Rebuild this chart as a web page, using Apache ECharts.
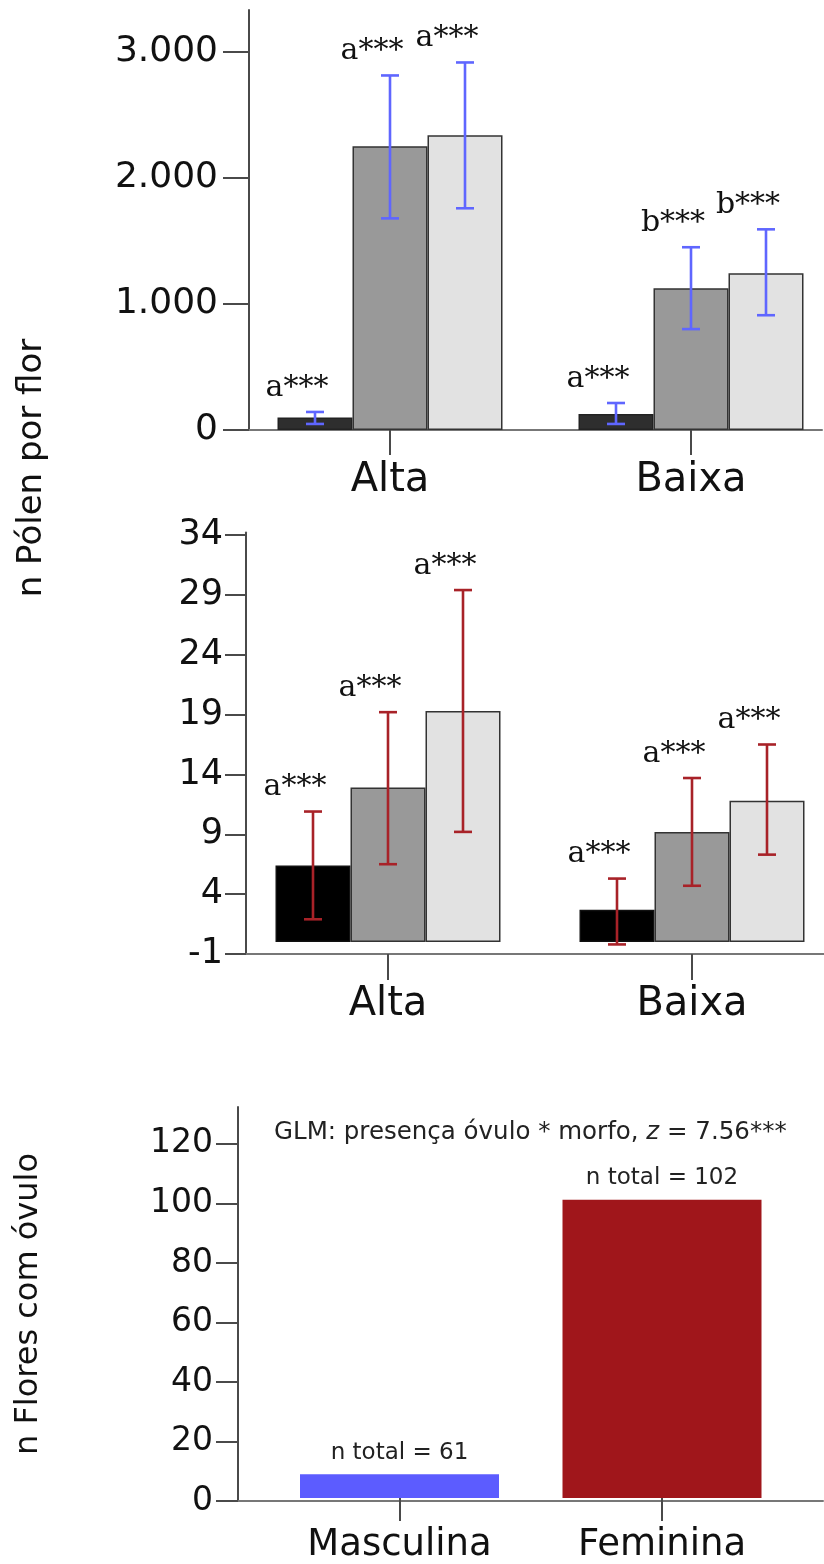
<!DOCTYPE html>
<html>
<head>
<meta charset="utf-8">
<script src="https://cdn.jsdelivr.net/npm/echarts@6/dist/echarts.min.js"></script>
<style>
  html, body { margin: 0; padding: 0; background: #fff; }
  #chart { width: 824px; height: 1564px; }
</style>
</head>
<body>
<div id="chart"></div>
<script>
// ---------- data ----------
const groups = ['Alta', 'Baixa'];
const morphs = ['Masculina', 'Feminina'];

// Panel 1: pollen per flower
const pollenDark = [100, 127];
const pollenMid = [2249, 1124];
const pollenLight = [2336, 1243];
const pollenDarkLow = [48, 48];
const pollenDarkHigh = [143, 214];
const pollenMidLow = [1678, 800];
const pollenMidHigh = [2811, 1449];
const pollenLightLow = [1758, 910];
const pollenLightHigh = [2914, 1591];
const pollenDarkLetters = ['a***', 'a***'];
const pollenMidLetters = ['a***', 'b***'];
const pollenLightLetters = ['a***', 'b***'];
const pollenTicks = [0, 1000, 2000, 3000];

// Panel 2
const grainDark = [6.4, 2.7];
const grainMid = [12.9, 9.2];
const grainLight = [19.3, 11.8];
const grainDarkLow = [1.9, -0.2];
const grainDarkHigh = [10.9, 5.3];
const grainMidLow = [6.5, 4.7];
const grainMidHigh = [19.2, 13.7];
const grainLightLow = [9.2, 7.3];
const grainLightHigh = [29.4, 16.5];
const grainDarkLetters = ['a***', 'a***'];
const grainMidLetters = ['a***', 'a***'];
const grainLightLetters = ['a***', 'a***'];
const grainTicks = [-1, 4, 9, 14, 19, 24, 29, 34];

// Panel 3: flowers with ovule
const ovuleFlowers = [8, 101];
const ovuleTotals = [61, 102];
const ovuleTicks = [0, 20, 40, 60, 80, 100, 120];

// ---------- styles ----------
const SANS = 'DejaVu Sans';
const SERIF = 'DejaVu Serif';
const BAR_W = 75;
const AXIS_COL = '#4a4a4a';
const BLUE = '#5f66ff';
const RED = '#a82228';

function thousands(v) {
  return String(v).replace(/\B(?=(\d{3})+(?!\d))/g, '.');
}

function catAxis(gridIndex, data, fontSize, margin, tickLen) {
  return {
    type: 'category', gridIndex, data, boundaryGap: false,
    axisLine: { show: false, onZero: false },
    axisTick: { show: true, length: tickLen, lineStyle: { color: AXIS_COL, width: 2 } },
    axisLabel: { fontSize, fontFamily: SANS, color: '#111', margin, interval: 0 },
    splitLine: { show: false }
  };
}
function lineXAxis(gridIndex) {
  return {
    type: 'value', gridIndex, min: 0, max: 1,
    axisLine: { show: true, onZero: false, lineStyle: { color: '#777', width: 2 } },
    axisTick: { show: false }, axisLabel: { show: false }, splitLine: { show: false }
  };
}
function hiddenY(gridIndex, min, max) {
  return { type: 'value', gridIndex, min, max, show: false, splitLine: { show: false } };
}
function visibleY(gridIndex, min, max, ticks, fontSize, margin, tickLen, fmt) {
  return {
    type: 'value', gridIndex, min, max,
    axisLine: { show: true, onZero: false, lineStyle: { color: AXIS_COL, width: 2 } },
    axisTick: { show: true, length: tickLen, customValues: ticks, lineStyle: { color: AXIS_COL, width: 2 } },
    axisLabel: { customValues: ticks, fontSize, fontFamily: SANS, color: '#111', margin, formatter: fmt },
    splitLine: { show: false }
  };
}
function barSeries(xi, yi, data, color, border) {
  return {
    type: 'bar', xAxisIndex: xi, yAxisIndex: yi, data,
    barWidth: BAR_W, barGap: '0%', clip: false,
    itemStyle: { color, borderColor: border, borderWidth: 1.5 },
    emphasis: { disabled: true }, z: 2
  };
}
function errorBars(xi, yi, lows, highs, letters, slot, color) {
  return {
    type: 'custom', xAxisIndex: xi, yAxisIndex: yi, z: 5, clip: false,
    data: lows.map((l, i) => [i, l, highs[i]]),
    renderItem: (params, api) => {
      const i = api.value(0);
      const lo = api.coord([i, api.value(1)]);
      const hi = api.coord([i, api.value(2)]);
      const x = lo[0] + slot * BAR_W;
      const cap = 9;
      const ls = { stroke: color, lineWidth: 2.6 };
      return {
        type: 'group',
        children: [
          { type: 'line', shape: { x1: x, y1: lo[1], x2: x, y2: hi[1] }, style: ls },
          { type: 'line', shape: { x1: x - cap, y1: hi[1], x2: x + cap, y2: hi[1] }, style: ls },
          { type: 'line', shape: { x1: x - cap, y1: lo[1], x2: x + cap, y2: lo[1] }, style: ls },
          { type: 'text', style: {
              text: letters[params.dataIndex], x: x - 18, y: hi[1] - 9,
              textAlign: 'center', verticalAlign: 'bottom',
              fontSize: 30, fontFamily: SERIF, fill: '#111' } }
        ]
      };
    }
  };
}

const chart = echarts.init(document.getElementById('chart'), null, { renderer: 'canvas' });

const option = {
  backgroundColor: '#fff',
  animation: false,
  title: {
    text: '{t|GLM: presença óvulo * morfo, }{i|z}{t| = 7.56***}',
    left: 269, top: 1115,
    textStyle: {
      fontWeight: 'normal',
      rich: {
        t: { fontSize: 24.5, fontFamily: SANS, fontWeight: 'normal', color: '#222' },
        i: { fontSize: 24.5, fontFamily: SANS, fontWeight: 'normal', fontStyle: 'italic', color: '#222' }
      }
    }
  },
  grid: [
    { left: 390, top: 10, width: 301, height: 420 },        // 0 P1 bars (category centres)
    { left: 249, top: 10, right: 2, height: 420 },          // 1 P1 frame
    { left: 388, top: 532.6, width: 304, height: 421.4 },   // 2 P2 bars
    { left: 246, top: 532.6, right: 0, height: 421.4 },     // 3 P2 frame
    { left: 399.5, top: 1107, width: 262.5, height: 394 },  // 4 P3 bars
    { left: 238, top: 1107, right: 1, height: 394 },        // 5 P3 frame
    { left: 249, top: 10, width: 10, height: 916 }          // 6 shared title
  ],
  xAxis: [
    catAxis(0, groups, 40, 31, 25),
    lineXAxis(1),
    catAxis(2, groups, 40, 31, 26),
    lineXAxis(3),
    catAxis(4, morphs, 37, 29, 23),
    lineXAxis(5),
    { type: 'value', gridIndex: 6, show: false }
  ],
  yAxis: [
    hiddenY(0, 0, 3330),
    visibleY(1, 0, 3330, pollenTicks, 36, 31, 26, thousands),
    hiddenY(2, -1, 34.2),
    visibleY(3, -1, 34.2, grainTicks, 35, 23, 21, v => String(v)),
    hiddenY(4, 0, 132.4),
    Object.assign(visibleY(5, 0, 132.4, ovuleTicks, 33, 25, 22, v => String(v)), {
      name: 'n Flores com óvulo', nameLocation: 'middle', nameRotate: 90, nameGap: 193,
      nameTextStyle: { fontSize: 32, fontFamily: SANS, color: '#111' }
    }),
    {
      type: 'value', gridIndex: 6, min: 0, max: 1,
      axisLine: { show: false }, axisTick: { show: false }, axisLabel: { show: false }, splitLine: { show: false },
      name: 'n Pólen por flor', nameLocation: 'middle', nameRotate: 90, nameGap: 200,
      nameTextStyle: { fontSize: 34, fontFamily: SANS, color: '#111' }
    }
  ],
  series: [
    barSeries(0, 0, pollenDark, '#2e2e2e', '#222'),
    barSeries(0, 0, pollenMid, '#999999', '#333'),
    barSeries(0, 0, pollenLight, '#e2e2e2', '#333'),
    errorBars(0, 0, pollenDarkLow, pollenDarkHigh, pollenDarkLetters, -1, BLUE),
    errorBars(0, 0, pollenMidLow, pollenMidHigh, pollenMidLetters, 0, BLUE),
    errorBars(0, 0, pollenLightLow, pollenLightHigh, pollenLightLetters, 1, BLUE),

    barSeries(2, 2, grainDark, '#000000', '#111'),
    barSeries(2, 2, grainMid, '#999999', '#333'),
    barSeries(2, 2, grainLight, '#e2e2e2', '#333'),
    errorBars(2, 2, grainDarkLow, grainDarkHigh, grainDarkLetters, -1, RED),
    errorBars(2, 2, grainMidLow, grainMidHigh, grainMidLetters, 0, RED),
    errorBars(2, 2, grainLightLow, grainLightHigh, grainLightLetters, 1, RED),

    {
      type: 'bar', xAxisIndex: 4, yAxisIndex: 4, barWidth: 199, clip: false,
      data: ovuleFlowers.map((v, i) => ({ value: v, itemStyle: { color: i === 0 ? '#5c5cff' : '#a0161b' } })),
      label: {
        show: true, position: 'top', distance: 10,
        fontSize: 23, fontFamily: SANS, color: '#222',
        formatter: p => 'n total = ' + ovuleTotals[p.dataIndex]
      },
      emphasis: { disabled: true }
    }
  ]
};
chart.setOption(option);
</script>
</body>
</html>
